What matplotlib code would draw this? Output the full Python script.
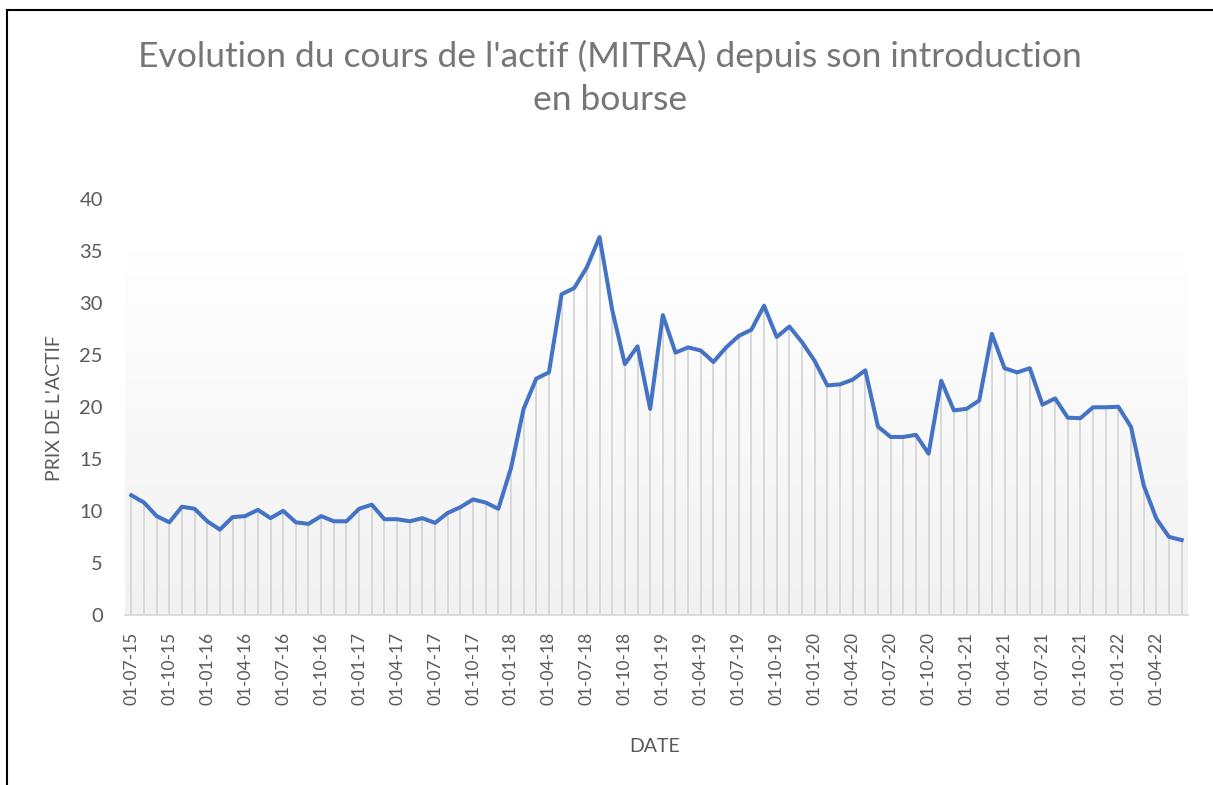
import matplotlib
matplotlib.use("Agg")
import matplotlib.pyplot as plt
import numpy as np
from matplotlib.lines import Line2D
from matplotlib.colors import LinearSegmentedColormap

# ---- data ----
prices = [
    11.5, 10.8, 9.5, 8.9, 10.4, 10.2, 9.0, 8.2, 9.4, 9.5,
    10.1, 9.3, 10.0, 8.9, 8.75, 9.5, 9.0, 9.0, 10.2, 10.6,
    9.2, 9.2, 9.0, 9.3, 8.85, 9.8, 10.35, 11.1, 10.8, 10.2,
    14.1, 19.8, 22.7, 23.3, 30.8, 31.4, 33.4, 36.3, 29.3, 24.1,
    25.8, 19.8, 28.8, 25.2, 25.7, 25.4, 24.3, 25.7, 26.8, 27.4,
    29.7, 26.7, 27.7, 26.2, 24.4, 22.05, 22.15, 22.6, 23.5, 18.1,
    17.1, 17.1, 17.3, 15.5, 22.5, 19.65, 19.8, 20.6, 27.0, 23.7,
    23.3, 23.7, 20.2, 20.8, 18.95, 18.9, 19.95, 19.95, 20.0, 18.05,
    12.45, 9.25, 7.5, 7.2,
]
tick_labels = [
    "01-07-15", "01-10-15", "01-01-16", "01-04-16", "01-07-16", "01-10-16",
    "01-01-17", "01-04-17", "01-07-17", "01-10-17", "01-01-18", "01-04-18",
    "01-07-18", "01-10-18", "01-01-19", "01-04-19", "01-07-19", "01-10-19",
    "01-01-20", "01-04-20", "01-07-20", "01-10-20", "01-01-21", "01-04-21",
    "01-07-21", "01-10-21", "01-01-22", "01-04-22",
]
y_ticks = [0, 5, 10, 15, 20, 25, 30, 35, 40]

title_line1 = "Evolution du cours de l'actif (MITRA) depuis son introduction"
title_line2 = "en bourse"
x_label = "DATE"
y_label = "PRIX DE L'ACTIF"

plt.rcParams['font.family'] = ['Lato', 'DejaVu Sans']

fig = plt.figure(figsize=(12.13, 7.85), dpi=100)
ax = fig.add_axes([125 / 1213, 1 - 615 / 785, (1188 - 125) / 1213, (615 - 198.5) / 785])

x = np.arange(len(prices))
ax.set_xlim(-0.5, len(prices) - 0.5)
ax.set_ylim(0, 40)

# gradient background
cmap = LinearSegmentedColormap.from_list("g", ["#f1f1f1", "#ffffff"])
grad = np.linspace(0, 1, 256).reshape(-1, 1)
ax.imshow(grad, cmap=cmap, origin="lower", aspect="auto",
          extent=[-0.5, len(prices) - 0.5, 0, 35], zorder=0)

ax.vlines(x, 0, prices, color="#d6d6d6", lw=1.3, zorder=1)
ax.plot(x, prices, color="#4472C4", lw=2.9, solid_joinstyle="round", zorder=3)

ax.set_xticks(x[::3])
ax.set_xticklabels(tick_labels, rotation=90, fontsize=12.5, color="#595959")
ax.set_yticks(y_ticks)
ax.set_yticklabels([str(v) for v in y_ticks], fontsize=14.5, color="#595959")
ax.tick_params(axis="both", length=0)
ax.tick_params(axis="x", pad=12)
ax.tick_params(axis="y", pad=16)

for s in ["left", "right", "top"]:
    ax.spines[s].set_visible(False)
ax.spines["bottom"].set_color("#d9d9d9")
ax.spines["bottom"].set_linewidth(1.3)
ax.set_facecolor("white")

fig.text(610 / 1213, 1 - 56 / 785, title_line1, ha="center", va="center",
         fontsize=25.5, color="#767676")
fig.text(610 / 1213, 1 - 100 / 785, title_line2, ha="center", va="center",
         fontsize=25.5, color="#767676")
fig.text(655 / 1213, 1 - 746 / 785, x_label, ha="center", va="center",
         fontsize=14, color="#595959")
fig.text(55 / 1213, 1 - 408 / 785, y_label, ha="center", va="center",
         rotation=90, fontsize=14, color="#595959")

# partial frame (left and top)
fig.add_artist(Line2D([7 / 1213, 7 / 1213], [0, 1 - 10 / 785], color="black", lw=1.5,
                      transform=fig.transFigure))
fig.add_artist(Line2D([7 / 1213, 1], [1 - 10 / 785, 1 - 10 / 785], color="black", lw=1.5,
                      transform=fig.transFigure))

fig.savefig("out.png", dpi=100)
